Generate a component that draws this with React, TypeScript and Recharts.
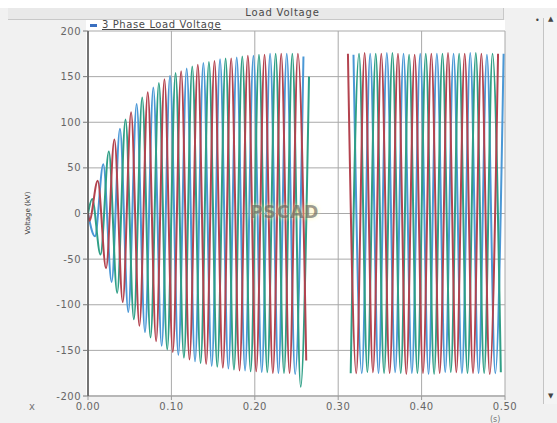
import { CartesianGrid, Line, LineChart, XAxis, YAxis } from "recharts";

// half-cycle starts (s); each phase hits one peak/trough per half cycle
const HALF_CYCLES = [
  0.0, 0.01, 0.02, 0.03, 0.04, 0.05, 0.06, 0.07, 0.08, 0.09,
  0.1, 0.11, 0.12, 0.13, 0.14, 0.15, 0.16, 0.17, 0.18, 0.19,
  0.2, 0.21, 0.22, 0.23, 0.24, 0.25, 0.26, 0.27, 0.28, 0.29,
  0.3, 0.31, 0.32, 0.33, 0.34, 0.35, 0.36, 0.37, 0.38, 0.39,
  0.4, 0.41, 0.42, 0.43, 0.44, 0.45, 0.46, 0.47, 0.48, 0.49,
];

// position of each phase's extremum inside a half cycle (s)
const PHASE_OFFSETS = { a: 0.005, b: 0.00167, c: 0.00833 };

// peak / trough values (kV), null = no signal (breaker open)
const PHASE_A = [
  16, -45, 68, -87, 103, -116, 127, -136, 143, -149,
  154, -158, 161, -164, 166, -168, 170, -171, 172, -173,
  174, -174, 175, -175, 175, -190, 150, null, null, null,
  null, -175, 175, -174, 175, -175, 176, -175, 174, -175,
  175, -176, 175, -174, 175, -175, 176, -175, 175, -174,
];
const PHASE_B = [
  -8, 36, -60, 81, -97, 111, -123, 133, -140, 147,
  -152, 156, -160, 163, -165, 167, -169, 170, -172, 173,
  -173, 174, -175, 175, -175, 175, -161, null, null, null,
  null, 175, -175, 176, -174, 175, -175, 175, -176, 174,
  -175, 175, -175, 176, -174, 175, -175, 175, -176, 175,
];
const PHASE_C = [
  -25, 54, -75, 93, -108, 120, -130, 138, -145, 151,
  -155, 159, -162, 165, -167, 169, -170, 171, -172, 173,
  -174, 175, -175, 175, -176, 172, null, null, null, null,
  null, 174, -175, 175, -175, 176, -174, 175, -175, 175,
  -176, 175, -174, 175, -175, 176, -175, 174, -175, 175,
];

const X_TICKS = [0, 0.1, 0.2, 0.3, 0.4, 0.5];
const Y_TICKS = [-200, -150, -100, -50, 0, 50, 100, 150, 200];

const COLORS = { a: "#2f9f86", b: "#b3434f", c: "#4b98d6" };

const buildSeries = (values: (number | null)[], offset: number) => [
  { t: 0, v: 0 },
  ...values.map((v, i) => ({ t: HALF_CYCLES[i] + offset, v })),
];

const tickStyle = { fill: "#666", fontFamily: "DejaVu Sans, sans-serif", fontSize: 10, letterSpacing: 0.5 };

export default function App() {
  const a = buildSeries(PHASE_A, PHASE_OFFSETS.a);
  const b = buildSeries(PHASE_B, PHASE_OFFSETS.b);
  const c = buildSeries(PHASE_C, PHASE_OFFSETS.c);

  return (
    <div
      style={{
        position: "fixed",
        left: 0,
        top: 0,
        width: 557,
        height: 423,
        background: "#f1f1f1",
        overflow: "hidden",
        fontFamily: "DejaVu Sans, sans-serif",
      }}
    >
      {/* top white strip + header band */}
      <div style={{ position: "absolute", left: 0, top: 0, width: 557, height: 8, background: "#fff" }} />
      <div
        style={{
          position: "absolute",
          left: 8,
          top: 8,
          width: 495,
          height: 11,
          background: "#e9e9e9",
          borderBottom: "1px solid #c8c8c8",
          borderRight: "1px solid #c8c8c8",
        }}
      />
      <div
        style={{
          position: "absolute",
          left: 0,
          top: 7,
          width: 565,
          textAlign: "center",
          fontSize: 10,
          letterSpacing: 0.8,
          color: "#4a4a4a",
        }}
      >
        Load Voltage
      </div>
      {/* plot frame */}
      <div style={{ position: "absolute", left: 86, top: 20, width: 419, height: 377, background: "#fff" }} />
      {/* scrollbar */}
      <div
        style={{
          position: "absolute",
          left: 543,
          top: 18,
          width: 14,
          height: 386,
          background: "#f4f4f4",
          borderLeft: "1px solid #c4c4c4",
        }}
      />
      <div style={{ position: "absolute", left: 548, top: 15, fontSize: 7, color: "#444" }}>▲</div>
      <div style={{ position: "absolute", left: 548, top: 392, fontSize: 7, color: "#444" }}>▼</div>
      <div style={{ position: "absolute", left: 535, top: 16, fontSize: 8, color: "#444" }}>•</div>

      <div style={{ position: "absolute", left: 0, top: 0 }}>
        <LineChart width={557} height={423} margin={{ top: 31, right: 52, bottom: 7, left: 28 }}>
          <CartesianGrid stroke="#a9a9a9" strokeWidth={1} />
          <XAxis
            type="number"
            dataKey="t"
            domain={[0, 0.5]}
            ticks={X_TICKS}
            tickFormatter={(v: number) => v.toFixed(2)}
            tick={tickStyle}
            tickSize={4}
            tickMargin={3}
            height={20}
            stroke="#9a9a9a"
            allowDataOverflow
          />
          <YAxis
            type="number"
            domain={[-200, 200]}
            ticks={Y_TICKS}
            tick={tickStyle}
            tickSize={5}
            tickMargin={2}
            width={60}
            axisLine={{ stroke: "#555", strokeWidth: 1.5 }}
            tickLine={{ stroke: "#777" }}
            allowDataOverflow
          />
          <Line data={c} dataKey="v" type="monotone" stroke={COLORS.c} strokeWidth={2} dot={false} isAnimationActive={false} />
          <Line data={a} dataKey="v" type="monotone" stroke={COLORS.a} strokeWidth={2} dot={false} isAnimationActive={false} />
          <Line data={b} dataKey="v" type="monotone" stroke={COLORS.b} strokeWidth={2} dot={false} isAnimationActive={false} />
        </LineChart>
      </div>

      {/* legend */}
      <div style={{ position: "absolute", left: 90, top: 19, fontSize: 10, color: "#4a4a4a", letterSpacing: 0.6, whiteSpace: "nowrap" }}>
        <span style={{ display: "inline-block", width: 7, height: 3, background: "#3a6fc0", marginRight: 5, verticalAlign: "middle" }} />
        <span style={{ textDecoration: "underline" }}>3 Phase Load Voltage</span>
      </div>

      {/* watermark */}
      <div
        style={{
          position: "absolute",
          left: 250,
          top: 202,
          fontSize: 17,
          fontWeight: "bold",
          letterSpacing: 1,
          color: "rgba(90,90,90,0.6)",
          textShadow: "0 0 4px rgba(255,240,150,0.8)",
        }}
      >
        PSCAD
      </div>

      {/* y label */}
      <div
        style={{
          position: "absolute",
          left: 28,
          top: 213,
          fontSize: 7,
          color: "#333",
          whiteSpace: "nowrap",
          transform: "translate(-50%, -50%) rotate(-90deg)",
        }}
      >
        Voltage (kV)
      </div>

      <div style={{ position: "absolute", left: 29, top: 401, fontSize: 10, color: "#777" }}>x</div>
      <div style={{ position: "absolute", left: 490, top: 415, fontSize: 8, color: "#777" }}>(s)</div>
    </div>
  );
}
